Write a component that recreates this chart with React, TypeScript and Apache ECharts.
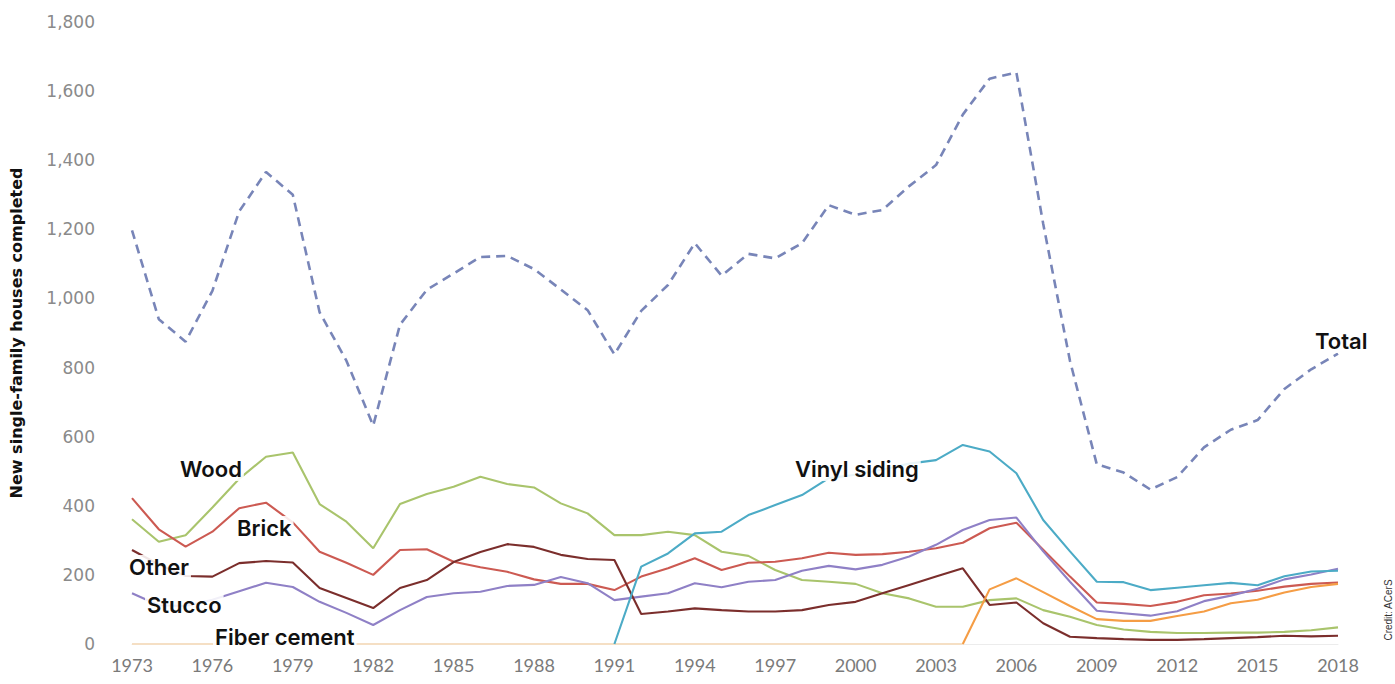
import React, { useEffect, useRef } from "react";
import * as echarts from "echarts";

const years = [
  "1973", "1974", "1975", "1976", "1977", "1978", "1979", "1980", "1981", "1982",
  "1983", "1984", "1985", "1986", "1987", "1988", "1989", "1990", "1991", "1992",
  "1993", "1994", "1995", "1996", "1997", "1998", "1999", "2000", "2001", "2002",
  "2003", "2004", "2005", "2006", "2007", "2008", "2009", "2010", "2011", "2012",
  "2013", "2014", "2015", "2016", "2017", "2018",
];

const total = [
  1197, 940, 875, 1022, 1252, 1366, 1300, 960, 820, 632,
  924, 1025, 1072, 1120, 1123, 1085, 1026, 966, 838, 964,
  1039, 1160, 1066, 1129, 1116, 1160, 1270, 1242, 1256, 1325,
  1386, 1532, 1636, 1654, 1216, 819, 520, 496, 447, 483,
  569, 620, 648, 738, 795, 840,
];

const wood = [
  361, 296, 315, 395, 478, 542, 554, 405, 354, 277,
  405, 434, 455, 484, 463, 453, 407, 378, 315, 315,
  325, 315, 267, 255, 214, 185, 180, 174, 147, 132,
  108, 108, 127, 132, 98, 79, 55, 42, 35, 32,
  32, 33, 33, 35, 40, 48,
];

const brick = [
  422, 332, 282, 325, 393, 409, 352, 267, 235, 200,
  272, 274, 238, 222, 209, 187, 174, 174, 156, 195,
  219, 248, 214, 235, 238, 248, 264, 258, 260, 267,
  277, 293, 335, 351, 273, 195, 120, 116, 110, 122,
  141, 146, 154, 166, 174, 178,
];

const stucco = [
  147, 112, 110, 128, 153, 177, 165, 122, 90, 55,
  98, 136, 147, 151, 168, 171, 194, 176, 127, 137,
  147, 176, 164, 180, 185, 212, 226, 216, 229, 253,
  287, 330, 359, 366, 268, 180, 96, 89, 82, 95,
  124, 140, 160, 187, 201, 218,
];

const other = [
  272, 230, 197, 195, 234, 240, 236, 162, 133, 104,
  162, 185, 237, 266, 289, 281, 258, 246, 243, 87,
  94, 103, 98, 94, 94, 98, 113, 122, 147, 171,
  195, 219, 113, 120, 60, 21, 17, 14, 12, 12,
  14, 17, 20, 24, 22, 24,
];

const vinyl = [
  null, null, null, null, null, null, null, null, null, null,
  null, null, null, null, null, null, null, null, 0, 224,
  262, 320, 325, 373, 402, 431, 480, 490, 505, 522,
  532, 576, 557, 494, 359, 268, 180, 179, 156, 163,
  170, 177, 170, 196, 210, 212,
];

const fiberCement = [
  0, 0, 0, 0, 0, 0, 0, 0, 0, 0,
  0, 0, 0, 0, 0, 0, 0, 0, 0, 0,
  0, 0, 0, 0, 0, 0, 0, 0, 0, 0,
  0, 0, 158, 190, 150, 110, 72, 67, 67, 81,
  94, 118, 128, 149, 165, 174,
];

// index of the last year (2004) before fiber cement was reported separately
const fiberStartIndex = 31;

const labelFont = "600 22px Inter";

export default function App() {
  const ref = useRef<HTMLDivElement>(null);

  useEffect(() => {
    if (!ref.current) return;
    const chart = echarts.init(ref.current, null, { renderer: "svg" });

    const mk = (name: string, data: (number | null)[], color: string, z = 2) => ({
      name,
      type: "line",
      data,
      symbol: "none",
      z,
      lineStyle: { color, width: 2.1 },
      itemStyle: { color },
    });

    const label = (text: string, x: number, y: number) => ({
      type: "text",
      x,
      y,
      z: 100,
      style: {
        text,
        font: labelFont,
        fill: "#111",
        verticalAlign: "middle",
        backgroundColor: "rgba(255,255,255,0.88)",
        padding: [1, 2, 1, 2],
      },
    });

    const fiberBase = fiberCement.map((v, i) => (i <= fiberStartIndex ? v : null));
    const fiberMain = fiberCement.map((v, i) => (i >= fiberStartIndex ? v : null));

    chart.setOption({
      animation: false,
      backgroundColor: "#ffffff",
      grid: { left: 126, right: 57, top: 22, bottom: 40, containLabel: false },
      xAxis: {
        type: "category",
        data: years,
        boundaryGap: false,
        axisTick: { show: false },
        axisLine: { lineStyle: { color: "#ececec", width: 1 } },
        axisLabel: {
          interval: 2,
          color: "#7a7a7a",
          fontFamily: "Lato",
          fontSize: 18,
          margin: 12,
        },
        splitLine: { show: false },
      },
      yAxis: {
        type: "value",
        min: 0,
        max: 1800,
        interval: 200,
        splitLine: { show: false },
        axisLine: { show: false },
        axisTick: { show: false },
        axisLabel: {
          color: "#8a8a8a",
          fontFamily: "DejaVu Sans",
          fontSize: 17,
          margin: 37,
          formatter: (v: number) => v.toLocaleString("en-US"),
        },
        name: "New single-family houses completed",
        nameLocation: "middle",
        nameGap: 108,
        nameRotate: 90,
        nameTextStyle: {
          color: "#111",
          fontFamily: "DejaVu Sans",
          fontWeight: "bold",
          fontSize: 16,
        },
      },
      series: [
        mk("Fiber cement (base)", fiberBase, "#f5dfc4", 1),
        mk("Wood", wood, "#a9c46c"),
        mk("Brick", brick, "#cc5a52"),
        mk("Stucco", stucco, "#8f80c6"),
        mk("Other", other, "#7b2e2c"),
        mk("Vinyl siding", vinyl, "#4cabc6"),
        mk("Fiber cement", fiberMain, "#f59d45"),
        {
          name: "Total",
          type: "line",
          data: total,
          symbol: "none",
          z: 3,
          lineStyle: { color: "#7885b8", width: 2.6, type: [9, 6] },
          itemStyle: { color: "#7885b8" },
        },
      ],
      graphic: [
        label("Wood", 178, 469),
        label("Brick", 235, 528),
        label("Other", 127, 567),
        label("Stucco", 145, 605),
        label("Fiber cement", 213, 637),
        label("Vinyl siding", 793, 469),
        label("Total", 1313, 341),
        {
          type: "text",
          x: 1388,
          y: 610,
          rotation: Math.PI / 2,
          z: 100,
          style: {
            text: "Credit: ACerS",
            font: "10px Liberation Sans",
            fill: "#333",
            align: "center",
            verticalAlign: "middle",
          },
        },
      ],
    });

    return () => chart.dispose();
  }, []);

  return (
    <div
      ref={ref}
      style={{ position: "absolute", left: 0, top: 0, width: 1395, height: 684 }}
    />
  );
}
